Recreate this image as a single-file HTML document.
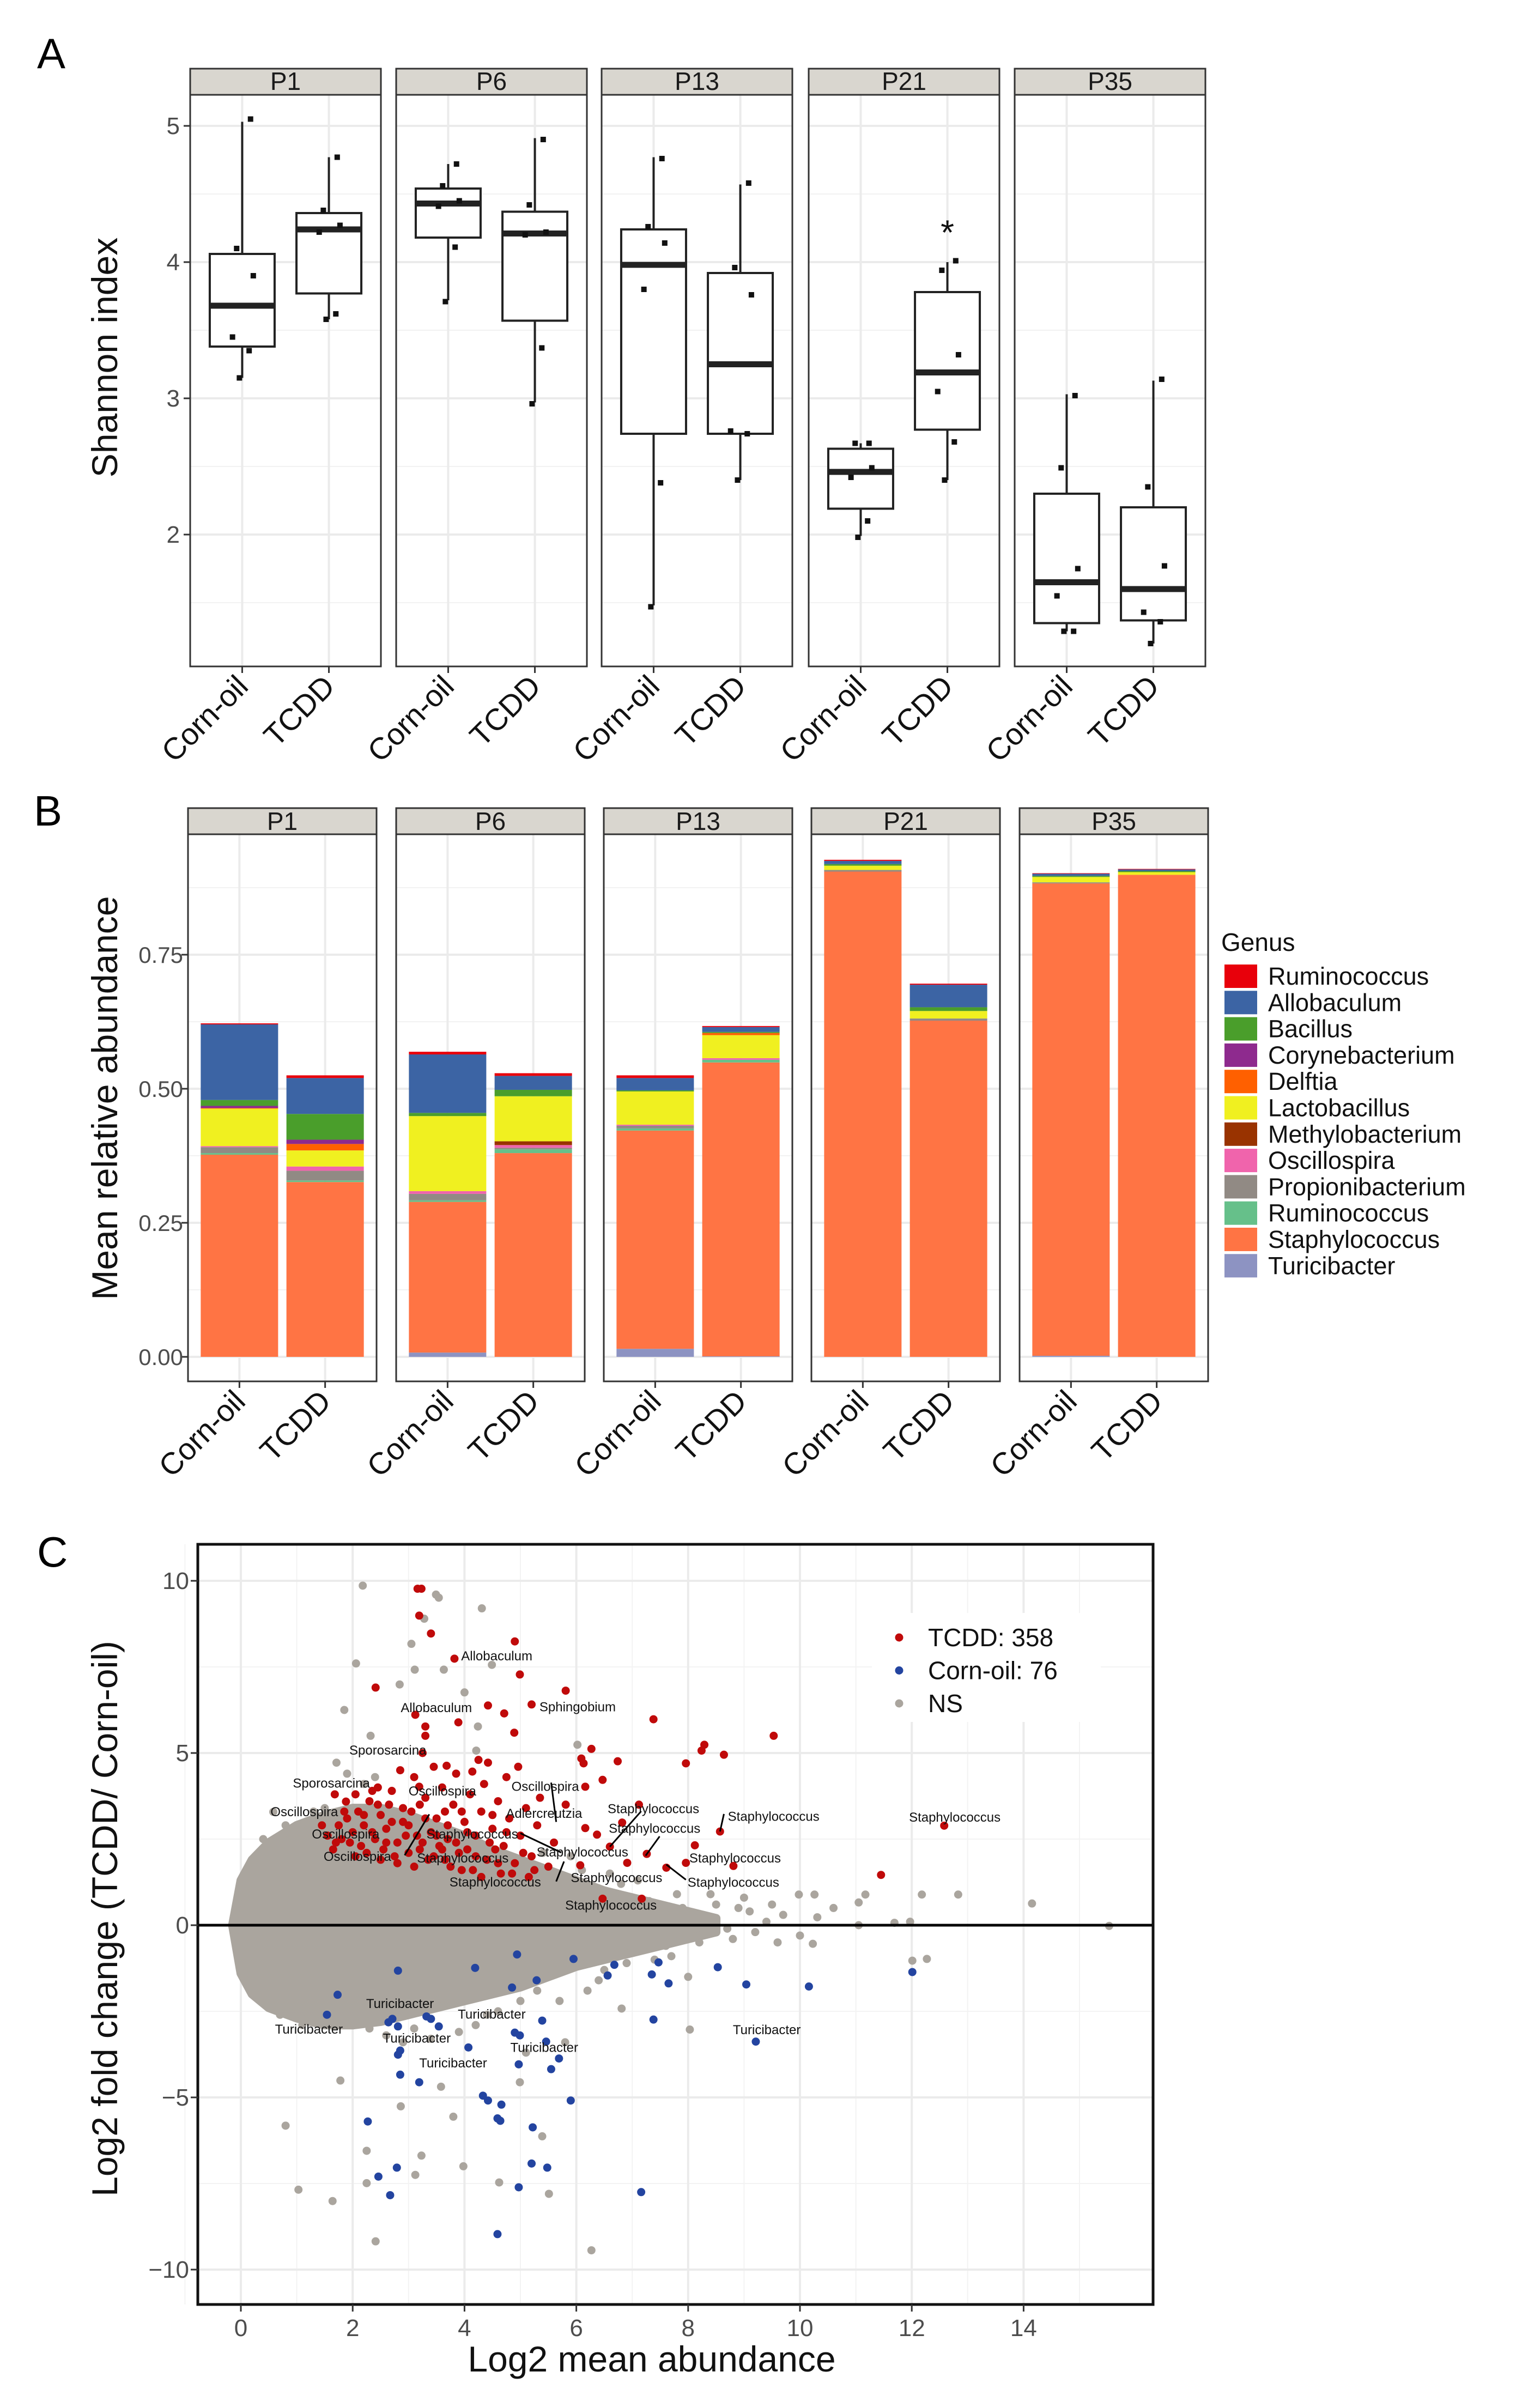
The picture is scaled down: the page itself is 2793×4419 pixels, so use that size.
<!DOCTYPE html>
<html><head><meta charset="utf-8"><style>
html,body{margin:0;padding:0;background:#fff}
svg{display:block;font-family:"Liberation Sans",Arial,sans-serif}
</style></head><body>
<svg id="fig" width="2793" height="4419" viewBox="0 0 2793 4419" xmlns="http://www.w3.org/2000/svg">
<rect width="2793" height="4419" fill="#fff"/>
<text x="68" y="125" font-size="78">A</text>
<text x="62" y="1515" font-size="78">B</text>
<text x="68" y="2875" font-size="78">C</text>
<g id="gA"></g>
<g id="gB"></g>
<g id="gC"></g>
</svg>
<script>
const NS="http://www.w3.org/2000/svg";
function mk(parent,tag,attrs,txt){const e=document.createElementNS(NS,tag);for(const k in attrs)e.setAttribute(k,attrs[k]);if(txt!==undefined)e.textContent=txt;parent.appendChild(e);return e;}

// ================= PANEL A DATA =================
const timepoints=["P1","P6","P13","P21","P35"];
const groups=["Corn-oil","TCDD"];
const yTicksA=[2,3,4,5];
const boxStats=[
 [[3.15,3.38,3.68,4.06,5.03],[3.58,3.77,4.24,4.36,4.77]],
 [[3.72,4.18,4.43,4.54,4.72],[2.97,3.57,4.21,4.37,4.91]],
 [[1.48,2.74,3.98,4.24,4.77],[2.40,2.74,3.25,3.92,4.57]],
 [[1.99,2.19,2.46,2.63,2.67],[2.40,2.77,3.19,3.78,4.00]],
 [[1.29,1.35,1.65,2.30,3.03],[1.20,1.37,1.60,2.20,3.13]]
];
const samplePoints=[
 [[5.05,4.10,3.90,3.45,3.35,3.15],[4.77,4.38,4.27,4.22,3.62,3.58]],
 [[4.72,4.56,4.45,4.41,4.11,3.71],[4.90,4.42,4.22,4.20,3.37,2.96]],
 [[4.76,4.26,4.14,3.80,2.38,1.47],[4.58,3.96,3.76,2.76,2.74,2.40]],
 [[2.67,2.67,2.49,2.42,2.10,1.98],[4.01,3.94,3.32,3.05,2.68,2.40]],
 [[3.02,2.49,1.75,1.55,1.29,1.29],[3.14,2.35,1.77,1.43,1.36,1.20]]
];
const sigMarks=[[null,null],[null,null],[null,null],[null,4.25],[null,null]];

// ================= PANEL B DATA =================
const genera=["Ruminococcus","Allobaculum","Bacillus","Corynebacterium","Delftia","Lactobacillus","Methylobacterium","Oscillospira","Propionibacterium","Ruminococcus","Staphylococcus","Turicibacter"];
const genusColors=["#e8000b","#3c64a4","#4a9e2b","#8e2a8e","#ff6000","#f0f020","#993300","#f064ac","#918a84","#66c08a","#ff7444","#8d93c2"];
const yTicksB=[0,0.25,0.5,0.75];
const yTickLabelsB=["0.00","0.25","0.50","0.75"];
const abundance=[
 [[0.002,0.141,0.011,0.004,0.001,0.070,0.000,0.002,0.011,0.003,0.377,0.000],
  [0.005,0.067,0.048,0.008,0.012,0.030,0.000,0.008,0.018,0.003,0.326,0.000]],
 [[0.005,0.109,0.006,0.000,0.000,0.140,0.000,0.005,0.012,0.003,0.281,0.008],
  [0.005,0.026,0.012,0.000,0.000,0.084,0.007,0.005,0.003,0.007,0.380,0.000]],
 [[0.005,0.023,0.002,0.000,0.000,0.062,0.000,0.002,0.005,0.004,0.407,0.015],
  [0.002,0.009,0.002,0.000,0.004,0.043,0.000,0.003,0.000,0.005,0.548,0.001]],
 [[0.002,0.006,0.003,0.000,0.000,0.008,0.000,0.000,0.003,0.000,0.905,0.000],
  [0.002,0.042,0.007,0.000,0.000,0.014,0.000,0.000,0.004,0.000,0.627,0.000]],
 [[0.001,0.004,0.002,0.000,0.000,0.010,0.000,0.000,0.002,0.000,0.881,0.002],
  [0.001,0.003,0.002,0.000,0.000,0.005,0.000,0.000,0.000,0.000,0.899,0.000]]
];

// ================= PANEL C DATA =================
const xTicksC=[0,2,4,6,8,10,12,14];
const yTicksC=[-10,-5,0,5,10];
const cloudX=[-0.15,0.0,0.2,0.5,1,1.5,2,2.5,3,3.5,4,4.5,5,5.5,6,6.5,7,7.5,8,8.5];
const cloudUpper=[0.0,1.3,1.9,2.4,2.9,3.2,3.4,3.4,3.2,2.9,2.6,2.2,1.9,1.6,1.3,1.0,0.8,0.6,0.4,0.2];
const cloudLower=[0.0,-1.4,-2.0,-2.4,-2.7,-2.9,-2.9,-2.8,-2.6,-2.4,-2.2,-2.0,-1.8,-1.5,-1.2,-1.0,-0.8,-0.6,-0.4,-0.2];
const nsPoints=[[2.18,9.86],[3.49,9.6],[3.54,9.51],[4.31,9.2],[3.28,8.9],[3.05,8.17],[2.06,7.6],[3.63,7.42],[3.11,7.42],[4.49,7.56],[2.84,6.99],[4.0,6.76],[1.85,6.25],[4.24,5.77],[2.32,5.5],[1.71,4.72],[4.21,5.07],[6.02,5.24],[0.58,3.29],[10.26,0.89],[9.98,0.89],[12.18,0.89],[12.83,0.89],[14.15,0.63],[11.05,0.66],[11.17,0.89],[10.31,0.23],[11.97,0.1],[11.69,0.07],[15.53,-0.02],[11.05,0],[12.27,-0.98],[10.23,-0.54],[12.01,-1.03],[6.81,-2.42],[8.03,-3.03],[1.78,-4.51],[0.8,-5.82],[3.8,-5.56],[2.86,-5.26],[3.23,-6.69],[2.25,-6.55],[3.98,-7.0],[1.03,-7.68],[1.64,-8.01],[2.41,-9.18],[6.27,-9.44],[4.62,-7.47],[5.51,-7.8],[3.12,-7.25],[2.25,-7.49],[5.39,-6.13],[4.99,-4.56],[3.58,-4.69],
 [5.2,1.3],[5.5,-1.2],[5.8,1.1],[6.0,-0.9],[6.3,0.9],[6.5,-1.3],[6.8,0.8],[7.0,-0.7],[7.3,0.7],[7.6,-0.6],[7.9,0.5],[8.2,-0.5],[8.5,0.6],[8.8,-0.4],[9.1,0.4],[9.4,0.1],[9.7,0.3],[9.2,-0.2],[8.0,-1.5],[6.2,-1.9],[5.7,-2.2],[6.6,1.5],[7.1,1.3],[5.4,2.1],[5.9,2.0],[6.1,1.6],[4.6,-2.5],[4.2,-2.9],[3.9,-3.1],[3.4,-3.3],[2.9,-3.4],[2.3,-3.0],[1.8,-2.7],[1.4,-2.5],[1.2,2.6],[1.5,3.4],[1.9,4.4],[2.2,4.1],[5.8,-3.4],[5.1,-3.7],[6.4,-1.6],[7.4,-1.0],[8.4,0.9],[9.0,0.8],[8.7,-0.1],
 [1.1,-2.9],[0.7,-2.6],[2.6,-3.2],[3.1,-3.0],[4.4,-2.6],[5.0,-2.2],[5.3,-1.9],[6.9,-1.1],[7.7,-0.9],[0.4,2.5],[0.8,2.9],[1.3,3.3],[2.4,4.3],[6.8,1.2],[7.8,0.9],[8.9,0.5],[9.5,0.6],[10.0,-0.3],[9.6,-0.5],[10.6,0.5]];
const tcddPoints=[[3.16,9.77],[3.23,9.77],[3.19,8.99],[3.40,8.47],[4.90,8.24],[3.82,7.74],[4.99,7.28],[2.41,6.9],[5.81,6.81],[4.42,6.38],[5.2,6.41],[3.12,6.11],[4.71,6.15],[7.38,5.98],[3.89,5.89],[3.30,5.77],[3.30,5.5],[4.89,5.59],[9.53,5.5],[8.29,5.24],[8.24,5.07],[8.64,4.95],[6.27,5.12],[6.09,4.84],[6.74,4.76],[7.96,4.7],[6.13,4.7],[4.42,4.72],[3.68,4.63],[4.96,4.6],[6.47,4.22],[6.16,4.02],[4.14,4.46],[3.19,4.02],[1.68,3.8],[1.88,3.59],[5.81,3.5],[7.12,3.5],[6.82,2.98],[6.16,2.82],[6.37,2.63],[8.57,2.72],[12.58,2.89],[6.6,2.28],[7.26,2.07],[8.12,2.32],[7.96,1.81],[8.81,1.72],[6.91,1.81],[6.07,1.74],[7.61,1.67],[11.45,1.46],[7.17,0.77],[6.47,0.77],
 [1.9,3.1],[2.0,2.7],[2.1,3.3],[2.2,2.9],[2.3,3.6],[2.4,2.5],[2.5,3.2],[2.6,2.8],[2.7,3.9],[2.8,2.4],[2.9,3.4],[3.0,2.9],[3.1,4.3],[3.2,2.2],[3.3,3.7],[3.4,2.7],[3.5,3.1],[3.6,4.0],[3.7,2.5],[3.8,3.5],[3.9,2.1],[4.0,3.0],[4.1,3.8],[4.2,2.6],[4.3,3.3],[4.4,1.9],[4.5,2.8],[4.6,3.6],[4.7,2.3],[4.8,3.1],[4.9,1.8],[5.0,2.6],[5.1,3.4],[5.2,2.0],[5.3,2.9],[5.5,1.7],[5.6,2.4],[2.15,2.3],[2.45,4.0],[2.75,2.0],[3.05,3.3],[3.35,1.9],[3.55,2.3],[3.85,4.4],[4.15,1.6],[4.35,4.1],[4.65,1.5],[2.35,3.9],[1.75,2.9],[2.55,2.2],[3.15,2.6],[3.45,4.6],[3.75,1.7],[4.05,2.2],[4.55,2.2],[2.05,3.8],[2.85,4.5],[3.25,5.0],[3.65,3.3],[4.25,4.8],[4.75,4.3],[5.35,3.7],[5.15,1.4],[2.65,3.5],[1.95,2.4],
 [1.55,2.6],[1.65,2.2],[1.8,2.5],[1.85,3.3],[2.25,2.1],[2.35,2.7],[2.5,1.9],[2.6,2.4],[2.7,3.0],[2.8,1.8],[2.95,2.6],[3.0,2.1],[3.1,1.7],[3.25,2.4],[3.3,3.1],[3.45,2.0],[3.5,2.6],[3.65,1.9],[3.7,2.9],[3.85,2.4],[3.95,1.6],[4.05,2.7],[4.2,2.0],[4.3,1.4],[4.45,2.4],[4.6,1.8],[4.75,2.7],[4.85,1.5],[5.05,2.1],[5.25,1.6],[1.45,2.9],[2.05,2.0],[2.2,3.2],[2.9,3.0],[3.6,2.2],[3.95,3.3],[4.5,3.2],[2.45,3.5],[3.2,3.5],[1.7,2.4]];
const cornPoints=[[2.81,-1.32],[4.94,-0.85],[4.19,-1.24],[5.95,-0.98],[6.68,-1.15],[7.47,-1.08],[7.35,-1.43],[7.65,-1.69],[6.56,-1.46],[5.29,-1.6],[4.85,-1.81],[8.53,-1.22],[9.04,-1.72],[10.16,-1.78],[12.01,-1.36],[1.73,-2.02],[1.54,-2.6],[2.71,-2.72],[2.64,-2.82],[3.32,-2.65],[3.40,-2.72],[2.81,-2.94],[3.54,-2.94],[5.39,-2.77],[7.38,-2.74],[4.9,-3.12],[4.99,-3.2],[5.46,-3.38],[9.21,-3.38],[2.85,-3.64],[2.81,-3.76],[4.07,-3.55],[5.69,-3.87],[4.97,-4.04],[5.55,-4.18],[2.85,-4.34],[3.19,-4.56],[4.33,-4.95],[4.42,-5.09],[4.66,-5.21],[5.9,-5.09],[4.59,-5.61],[4.64,-5.68],[2.27,-5.7],[5.22,-5.87],[5.2,-6.92],[5.48,-7.04],[2.79,-7.04],[2.46,-7.3],[4.97,-7.61],[7.16,-7.75],[2.67,-7.84],[4.59,-8.97]];
const legendLabelsC=["TCDD: 358","Corn-oil: 76","NS"];
const geneLabels=[["Allobaculum",3.94,7.82],["Allobaculum",2.86,6.31],["Sphingobium",5.34,6.34],["Sporosarcina",1.94,5.08],["Sporosarcina",0.93,4.12],["Oscillospira",3.0,3.89],["Oscillospira",4.84,4.03],["Oscillospira",0.53,3.29],["Adlercreutzia",4.74,3.24],["Staphylococcus",6.56,3.38],["Staphylococcus",8.71,3.16],["Staphylococcus",11.95,3.13],["Oscillospira",1.27,2.64],["Staphylococcus",3.32,2.64],["Staphylococcus",6.58,2.81],["Staphylococcus",5.29,2.12],["Oscillospira",1.48,1.99],["Staphylococcus",3.15,1.95],["Staphylococcus",8.02,1.95],["Staphylococcus",3.73,1.25],["Staphylococcus",5.9,1.38],["Staphylococcus",7.99,1.24],["Staphylococcus",5.8,0.58],["Turicibacter",2.24,-2.28],["Turicibacter",3.88,-2.59],["Turicibacter",0.61,-3.02],["Turicibacter",2.54,-3.28],["Turicibacter",4.82,-3.55],["Turicibacter",3.19,-4.0],["Turicibacter",8.8,-3.04]];
const connectors=[[5.55,4.14,5.64,3.0],[3.37,3.22,2.93,2.03],[5.0,2.67,5.73,2.11],[7.16,3.31,6.6,2.28],[8.64,3.23,8.57,2.72],[7.49,2.58,7.24,2.02],[5.78,1.85,5.64,1.27],[7.61,1.76,7.96,1.32]];

// ================= DRAW A =================
(function(){
 const g=document.getElementById('gA');
 const panL=[349,727,1104,1484,1862], pw=350, top=174, bot=1223, stripTop=126;
 const y=v=>231+(5-v)*250;
 const minorY=[1.5,2.5,3.5,4.5];
 const jit=[0.06,-0.04,0.08,-0.07,0.05,-0.02];
 timepoints.forEach((tp,i)=>{
  const L=panL[i], xs=k=>L+(k+1-0.4)/2.2*pw;
  const pg=mk(g,'g',{});
  
  
  mk(pg,'rect',{x:L,y:top,width:pw,height:bot-top,fill:'#fff'});
  minorY.forEach(v=>mk(pg,'line',{x1:L,x2:L+pw,y1:y(v),y2:y(v),stroke:'#f2f2f2','stroke-width':2}));
  yTicksA.forEach(v=>mk(pg,'line',{x1:L,x2:L+pw,y1:y(v),y2:y(v),stroke:'#ebebeb','stroke-width':4}));
  [0,1].forEach(k=>mk(pg,'line',{x1:xs(k),x2:xs(k),y1:top,y2:bot,stroke:'#ebebeb','stroke-width':4}));
  groups.forEach((gr,k)=>{
   const s=boxStats[i][k], cx=xs(k), bw=119;
   const b=mk(pg,'g',{});
   
   
   mk(b,'line',{x1:cx,x2:cx,y1:y(s[0]),y2:y(s[1]),stroke:'#222','stroke-width':4});
   mk(b,'line',{x1:cx,x2:cx,y1:y(s[3]),y2:y(s[4]),stroke:'#222','stroke-width':4});
   mk(b,'rect',{x:cx-bw/2,y:y(s[3]),width:bw,height:y(s[1])-y(s[3]),fill:'#fff',stroke:'#222','stroke-width':4});
   mk(b,'line',{x1:cx-bw/2,x2:cx+bw/2,y1:y(s[2]),y2:y(s[2]),stroke:'#222','stroke-width':11});
   samplePoints[i][k].forEach((v,j)=>{
    const p=mk(b,'rect',{x:cx+jit[j]*pw/2.2*1.6-5,y:y(v)-5,width:10,height:10,fill:'#111'});
    
    
   });
   if(sigMarks[i][k]!==null){const t=mk(b,'text',{x:cx,y:y(sigMarks[i][k])+30,'font-size':64,'text-anchor':'middle',fill:'#111'},'*');
    
    }
   mk(pg,'line',{x1:cx,x2:cx,y1:bot,y2:bot+12,stroke:'#333','stroke-width':3});
   const lab=mk(pg,'text',{x:cx+14,y:bot+40,'font-size':56,'text-anchor':'end',fill:'#111',transform:`rotate(-45 ${cx+14} ${bot+40})`},gr);
   
   
  });
  mk(pg,'rect',{x:L,y:top,width:pw,height:bot-top,fill:'none',stroke:'#333','stroke-width':3});
  mk(pg,'rect',{x:L,y:stripTop,width:pw,height:top-stripTop,fill:'#d9d6cf',stroke:'#333','stroke-width':3});
  const st=mk(pg,'text',{x:L+pw/2,y:top-9,'font-size':46,'text-anchor':'middle',fill:'#1a1a1a'},tp);
  
  
 });
 yTicksA.forEach(v=>{
  mk(g,'line',{x1:337,x2:349,y1:y(v),y2:y(v),stroke:'#333','stroke-width':3});
  const t=mk(g,'text',{x:330,y:y(v)+15,'font-size':44,'text-anchor':'end',fill:'#4d4d4d'},String(v));
  
  
 });
 const yt=mk(g,'text',{x:215,y:656,'font-size':66,'text-anchor':'middle',fill:'#111',transform:'rotate(-90 215 656)'},'Shannon index');
 
 
})();

// ================= DRAW B =================
(function(){
 const g=document.getElementById('gB');
 const panL=[345,727,1108,1489,1871], pw=346, top=1531, bot=2535, stripTop=1483;
 const y=v=>2490-v*984;
 const minorY=[0.125,0.375,0.625,0.875];
 timepoints.forEach((tp,i)=>{
  const L=panL[i], xs=k=>L+(k+1-0.4)/2.2*pw;
  const pg=mk(g,'g',{});
  
  
  mk(pg,'rect',{x:L,y:top,width:pw,height:bot-top,fill:'#fff'});
  minorY.forEach(v=>mk(pg,'line',{x1:L,x2:L+pw,y1:y(v),y2:y(v),stroke:'#f2f2f2','stroke-width':2}));
  yTicksB.forEach(v=>mk(pg,'line',{x1:L,x2:L+pw,y1:y(v),y2:y(v),stroke:'#ebebeb','stroke-width':4}));
  [0,1].forEach(k=>mk(pg,'line',{x1:xs(k),x2:xs(k),y1:top,y2:bot,stroke:'#ebebeb','stroke-width':4}));
  groups.forEach((gr,k)=>{
   const cx=xs(k), bw=142; let cum=0;
   for(let j=genera.length-1;j>=0;j--){
    const v=abundance[i][k][j]; if(v<=0) continue;
    const r=mk(pg,'rect',{x:cx-bw/2,y:y(cum+v),width:bw,height:y(cum)-y(cum+v),fill:genusColors[j]});
    
    
    cum+=v;
   }
   mk(pg,'line',{x1:cx,x2:cx,y1:bot,y2:bot+12,stroke:'#333','stroke-width':3});
   const lab=mk(pg,'text',{x:cx+14,y:bot+40,'font-size':56,'text-anchor':'end',fill:'#111',transform:`rotate(-45 ${cx+14} ${bot+40})`},gr);
   
   
  });
  mk(pg,'rect',{x:L,y:top,width:pw,height:bot-top,fill:'none',stroke:'#333','stroke-width':3});
  mk(pg,'rect',{x:L,y:stripTop,width:pw,height:top-stripTop,fill:'#d9d6cf',stroke:'#333','stroke-width':3});
  const st=mk(pg,'text',{x:L+pw/2,y:top-8,'font-size':46,'text-anchor':'middle',fill:'#1a1a1a'},tp);
  
  
 });
 yTicksB.forEach((v,i)=>{
  mk(g,'line',{x1:333,x2:345,y1:y(v),y2:y(v),stroke:'#333','stroke-width':3});
  const t=mk(g,'text',{x:336,y:y(v)+15,'font-size':42,'text-anchor':'end',fill:'#4d4d4d'},yTickLabelsB[i]);
  
  
 });
 const yt=mk(g,'text',{x:215,y:2015,'font-size':66,'text-anchor':'middle',fill:'#111',transform:'rotate(-90 215 2015)'},'Mean relative abundance');
 
 
 const lt=mk(g,'text',{x:2241,y:1745,'font-size':46,fill:'#111'},'Genus');
 
 
 genera.forEach((n,i)=>{
  const yy=1769+i*48.3;
  const e=mk(g,'g',{});
  
  
  mk(e,'rect',{x:2246,y:yy,width:62,height:45,fill:genusColors[i],stroke:'#fff','stroke-width':2});
  mk(e,'text',{x:2327,y:yy+38,'font-size':45,fill:'#111'},n);
 });
})();

// ================= DRAW C =================
(function(){
 const g=document.getElementById('gC');
 const L=363,R=2116,T=2834,B=4229;
 const x=v=>442+v*102.6, y=v=>3533-v*63.2;
 mk(g,'rect',{x:L,y:T,width:R-L,height:B-T,fill:'#fff'});
 for(let v=-1;v<=16;v+=2) mk(g,'line',{x1:x(v),x2:x(v),y1:T,y2:B,stroke:'#f3f3f3','stroke-width':2});
 [-7.5,-2.5,2.5,7.5].forEach(v=>mk(g,'line',{x1:L,x2:R,y1:y(v),y2:y(v),stroke:'#f3f3f3','stroke-width':2}));
 xTicksC.forEach(v=>mk(g,'line',{x1:x(v),x2:x(v),y1:T,y2:B,stroke:'#ebebeb','stroke-width':4}));
 yTicksC.forEach(v=>mk(g,'line',{x1:L,x2:R,y1:y(v),y2:y(v),stroke:'#ebebeb','stroke-width':4}));
 let d='M'+x(cloudX[0])+','+y(cloudUpper[0]);
 cloudX.forEach((cx,i)=>{d+=' L'+x(cx)+','+y(cloudUpper[i]);});
 for(let i=cloudX.length-1;i>=0;i--) d+=' L'+x(cloudX[i])+','+y(cloudLower[i]);
 d+='Z';
 const cl=mk(g,'path',{d:d,fill:'#aaa59e',stroke:'#aaa59e','stroke-width':16,'stroke-linejoin':'round'});
 
 
 const drawPts=(arr,col,name)=>{arr.forEach(p=>{const c=mk(g,'circle',{cx:x(p[0]),cy:y(p[1]),r:7.5,fill:col});
  
  });};
 drawPts(nsPoints,'#aaa59e','ns-point');
 drawPts(cornPoints,'#2344a0','corn-oil-point');
 drawPts(tcddPoints,'#c00a0a','tcdd-point');
 const zl=mk(g,'line',{x1:L,x2:R,y1:y(0),y2:y(0),stroke:'#000','stroke-width':5});
 
 
 connectors.forEach(c=>mk(g,'line',{x1:x(c[0]),y1:y(c[1]),x2:x(c[2]),y2:y(c[3]),stroke:'#000','stroke-width':3}));
 geneLabels.forEach(l=>{const t=mk(g,'text',{x:x(l[1]),y:y(l[2])+8,'font-size':24,fill:'#111'},l[0]);
  
  });
 mk(g,'rect',{x:1600,y:2960,width:420,height:200,fill:'#fff'});
 const lc=['#c00a0a','#2344a0','#aaa59e'];
 legendLabelsC.forEach((t,i)=>{
  const e=mk(g,'g',{});
  
  
  mk(e,'circle',{cx:1650,cy:3005+i*60.5,r:7.5,fill:lc[i]});
  mk(e,'text',{x:1703,y:3021+i*60.5,'font-size':46,fill:'#111'},t);
 });
 mk(g,'rect',{x:L,y:T,width:R-L,height:B-T,fill:'none',stroke:'#111','stroke-width':5});
 xTicksC.forEach(v=>{
  mk(g,'line',{x1:x(v),x2:x(v),y1:B,y2:B+13,stroke:'#333','stroke-width':3});
  const t=mk(g,'text',{x:x(v),y:B+58,'font-size':44,'text-anchor':'middle',fill:'#4d4d4d'},String(v));
  
  
 });
 yTicksC.forEach(v=>{
  mk(g,'line',{x1:L-13,x2:L,y1:y(v),y2:y(v),stroke:'#333','stroke-width':3});
  const t=mk(g,'text',{x:L-16,y:y(v)+15,'font-size':44,'text-anchor':'end',fill:'#4d4d4d'},v<0?'\u2212'+Math.abs(v):String(v));
  
  
 });
 const xt=mk(g,'text',{x:1196,y:4352,'font-size':66,'text-anchor':'middle',fill:'#111'},'Log2 mean  abundance');
 
 
 const yt=mk(g,'text',{x:215,y:3521,'font-size':66,'text-anchor':'middle',fill:'#111',transform:'rotate(-90 215 3521)'},'Log2 fold change (TCDD/ Corn-oil)');
 
 
})();
</script>
</body></html>
